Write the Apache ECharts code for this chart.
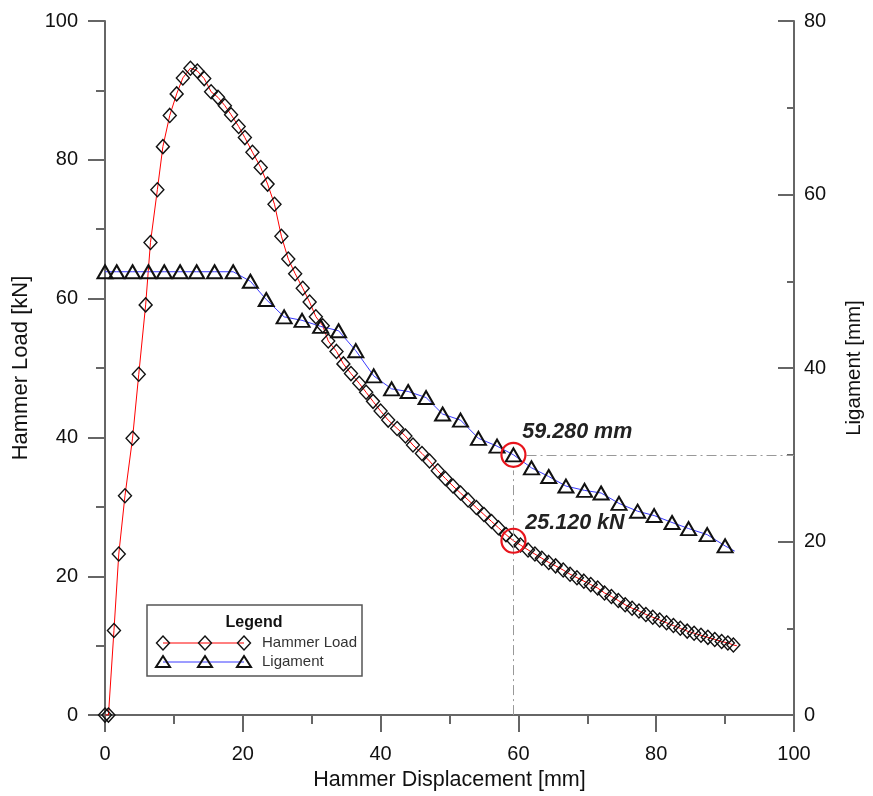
<!DOCTYPE html>
<html>
<head>
<meta charset="utf-8">
<title>Hammer Load / Ligament</title>
<script src="https://cdn.jsdelivr.net/npm/echarts@6/dist/echarts.min.js"></script>
<style>
  html, body { margin: 0; padding: 0; background: #fff; overflow: hidden; }
  #chart { width: 873px; height: 796px; }
</style>
</head>
<body>
<div id="chart"></div>
<script>
// hammer load curve (kN) vs displacement (mm)
const loadX = [0, 0.5, 1.3, 2.0, 2.9, 4.0, 4.9, 5.9, 6.6, 7.6, 8.4, 9.4, 10.4, 11.3, 12.4, 13.4, 14.4, 15.4,
  16.4, 17.4, 18.3, 19.4, 20.3, 21.4, 22.6, 23.6, 24.6, 25.6, 26.6, 27.6, 28.7, 29.7, 30.6, 31.6, 32.4,
  33.6, 34.6, 35.7, 36.9, 37.9, 38.9, 40.0, 41.1, 42.4, 43.6, 44.7, 46.0, 47.1, 48.3, 49.4, 50.5, 51.6,
  52.7, 53.9, 55.0, 56.1, 57.1, 58.2, 59.28, 60.3, 61.4, 62.4, 63.4, 64.4, 65.4, 66.5, 67.5, 68.5, 69.5,
  70.5, 71.5, 72.5, 73.5, 74.5, 75.5, 76.5, 77.5, 78.5, 79.5, 80.5, 81.5, 82.5, 83.5, 84.5, 85.5, 86.5,
  87.5, 88.5, 89.5, 90.4, 91.2, 91.7];
const loadY = [0, 0, 12.2, 23.2, 31.6, 39.9, 49.1, 59.1, 68.1, 75.7, 81.9, 86.4, 89.5, 91.8, 93.2, 92.8, 91.7, 89.8,
  89.0, 87.8, 86.5, 84.8, 83.2, 81.1, 78.9, 76.5, 73.6, 69.0, 65.7, 63.6, 61.5, 59.5, 57.4, 56.1, 53.9,
  52.4, 50.6, 49.2, 47.8, 46.5, 45.2, 43.8, 42.5, 41.3, 40.2, 38.9, 37.7, 36.6, 35.2, 34.1, 33.0, 32.0,
  31.0, 29.9, 28.9, 27.9, 27.0, 26.0, 25.12, 24.5, 23.8, 23.2, 22.6, 22.0, 21.5, 20.9, 20.3, 19.8, 19.3,
  18.8, 18.3, 17.6, 17.1, 16.5, 15.9, 15.4, 15.0, 14.5, 14.1, 13.7, 13.3, 12.9, 12.5, 12.1, 11.8, 11.5,
  11.2, 10.9, 10.6, 10.4, 10.1, 10.0];

// ligament (mm) vs displacement (mm)
const ligX = [0, 1.7, 4.0, 6.3, 8.6, 10.9, 13.3, 15.9, 18.6, 21.1, 23.4, 26.0, 28.6, 31.3, 33.9, 36.4, 39.0,
  41.6, 44.0, 46.6, 49.0, 51.6, 54.2, 56.9, 59.28, 61.9, 64.4, 66.9, 69.6, 72.0, 74.6, 77.3, 79.7, 82.3,
  84.7, 87.4, 90.0, 91.4];
const ligY = [51.1, 51.1, 51.1, 51.1, 51.1, 51.1, 51.1, 51.1, 51.1, 50.0, 47.9, 45.9, 45.5, 44.8, 44.3, 42.0, 39.1,
  37.6, 37.3, 36.6, 34.7, 34.0, 31.9, 31.0, 30.0, 28.5, 27.5, 26.4, 25.9, 25.6, 24.4, 23.5, 23.0, 22.2,
  21.5, 20.8, 19.5, 18.9];

// marked point
const markX = 59.28;
const markLoad = 25.12;
const markLig = 30.0;

const FONT = 'Liberation Sans, Arial, sans-serif';

// last point of each record is line only (no marker)
function toData(xs, ys) {
  return xs.map((x, i) => i === xs.length - 1
    ? { value: [x, ys[i]], symbol: 'none' }
    : [x, ys[i]]);
}

const chart = echarts.init(document.getElementById('chart'));

const axisLineStyle = { color: '#666', width: 2 };

// legend drawn by hand (three markers per row like the original)
function legendRow(y, color, shape, text) {
  const xs = [163, 205, 244];
  const els = [{
    type: 'line',
    shape: { x1: 163, y1: y, x2: 244, y2: y },
    style: { stroke: color, lineWidth: 1 }
  }];
  xs.forEach(cx => {
    const pts = shape === 'diamond'
      ? [[cx, y - 7], [cx + 6.5, y], [cx, y + 7], [cx - 6.5, y]]
      : [[cx, y - 6], [cx + 7, y + 5], [cx - 7, y + 5]];
    els.push({
      type: 'polygon',
      shape: { points: pts },
      style: { fill: 'none', stroke: '#111', lineWidth: shape === 'diamond' ? 1.4 : 2 }
    });
  });
  els.push({
    type: 'text',
    style: { x: 262, y: y, text: text, font: '15px ' + FONT, fill: '#333', verticalAlign: 'middle' }
  });
  return els;
}

chart.setOption({
  animation: false,
  backgroundColor: '#fff',
  grid: { left: 105, right: 68, top: 21, bottom: 78, containLabel: false },
  xAxis: {
    type: 'value',
    min: 0, max: 100, interval: 20,
    name: 'Hammer Displacement [mm]',
    nameLocation: 'middle',
    nameGap: 48,
    nameTextStyle: { fontSize: 21.5, color: '#111', fontFamily: FONT },
    axisLine: { onZero: false, lineStyle: axisLineStyle },
    axisTick: { show: true, length: 17, lineStyle: axisLineStyle },
    minorTick: { show: true, splitNumber: 2, length: 9, lineStyle: axisLineStyle },
    axisLabel: { fontSize: 20, color: '#111', fontFamily: FONT, margin: 29 },
    splitLine: { show: false }
  },
  yAxis: [{
    type: 'value',
    min: 0, max: 100, interval: 20,
    name: 'Hammer Load [kN]',
    nameLocation: 'middle',
    nameGap: 73,
    nameTextStyle: { fontSize: 22, color: '#111', fontFamily: FONT },
    axisLine: { show: true, lineStyle: axisLineStyle },
    axisTick: { show: true, length: 17, lineStyle: axisLineStyle },
    minorTick: { show: true, splitNumber: 2, length: 9, lineStyle: axisLineStyle },
    axisLabel: { fontSize: 20, color: '#111', fontFamily: FONT, margin: 27 },
    splitLine: { show: false }
  }, {
    type: 'value',
    position: 'right',
    min: 0, max: 80, interval: 20,
    name: 'Ligament [mm]',
    nameLocation: 'middle',
    nameGap: 50,
    nameTextStyle: { fontSize: 20.5, color: '#111', fontFamily: FONT },
    axisLine: { show: true, lineStyle: axisLineStyle },
    axisTick: { show: true, inside: true, length: 16, lineStyle: axisLineStyle },
    minorTick: { show: true, splitNumber: 2, length: 7, lineStyle: axisLineStyle },
    axisLabel: { fontSize: 20, color: '#111', fontFamily: FONT, margin: 10 },
    splitLine: { show: false }
  }],
  series: [{
    name: 'Hammer Load',
    type: 'line',
    yAxisIndex: 0,
    data: toData(loadX, loadY),
    symbol: 'diamond',
    symbolSize: [13, 14],
    showAllSymbol: true,
    lineStyle: { color: '#ff0000', width: 1 },
    itemStyle: { color: 'rgba(0,0,0,0)', borderColor: '#111', borderWidth: 1.4 },
    z: 3,
    markPoint: {
      silent: true,
      symbol: 'circle',
      symbolSize: 24,
      itemStyle: { color: 'rgba(0,0,0,0)', borderColor: '#e8141c', borderWidth: 2.2 },
      label: {
        show: true,
        position: [25, -5],
        formatter: markLoad.toFixed(3) + ' kN',
        fontSize: 21.5, fontWeight: 'bold', fontStyle: 'italic',
        color: '#222', fontFamily: FONT,
        align: 'left', verticalAlign: 'middle'
      },
      data: [{ coord: [markX, markLoad] }]
    }
  }, {
    name: 'Ligament',
    type: 'line',
    yAxisIndex: 1,
    data: toData(ligX, ligY),
    symbol: 'triangle',
    symbolSize: [15, 13],
    showAllSymbol: true,
    lineStyle: { color: '#3a3aff', width: 1 },
    itemStyle: { color: 'rgba(0,0,0,0)', borderColor: '#111', borderWidth: 2 },
    z: 3,
    markLine: {
      silent: true,
      symbol: ['none', 'none'],
      label: { show: false },
      lineStyle: { color: '#999', width: 1, type: [10, 4, 2, 4] },
      data: [
        [{ coord: [markX + 1.9, markLig] }, { coord: [100, markLig] }],
        [{ coord: [markX, 0] }, { coord: [markX, markLig - 1.8] }]
      ]
    },
    markPoint: {
      silent: true,
      symbol: 'circle',
      symbolSize: 24,
      itemStyle: { color: 'rgba(0,0,0,0)', borderColor: '#e8141c', borderWidth: 2.2 },
      label: {
        show: true,
        position: [22, -10],
        formatter: markX.toFixed(3) + ' mm',
        fontSize: 21.5, fontWeight: 'bold', fontStyle: 'italic',
        color: '#222', fontFamily: FONT,
        align: 'left', verticalAlign: 'middle'
      },
      data: [{ coord: [markX, markLig] }]
    }
  }],
  graphic: [
    {
      type: 'rect',
      shape: { x: 147, y: 605, width: 215, height: 71 },
      style: { fill: '#fff', stroke: '#555', lineWidth: 1.5 },
      z: 10
    },
    {
      type: 'text',
      z: 11,
      style: { x: 254, y: 623, text: 'Legend', font: 'bold 16px ' + FONT, fill: '#111', align: 'center', verticalAlign: 'middle' }
    },
    ...legendRow(643, '#ff0000', 'diamond', 'Hammer Load').map(e => Object.assign(e, { z: 11 })),
    ...legendRow(662, '#3a3aff', 'triangle', 'Ligament').map(e => Object.assign(e, { z: 11 }))
  ]
});
</script>
</body>
</html>
